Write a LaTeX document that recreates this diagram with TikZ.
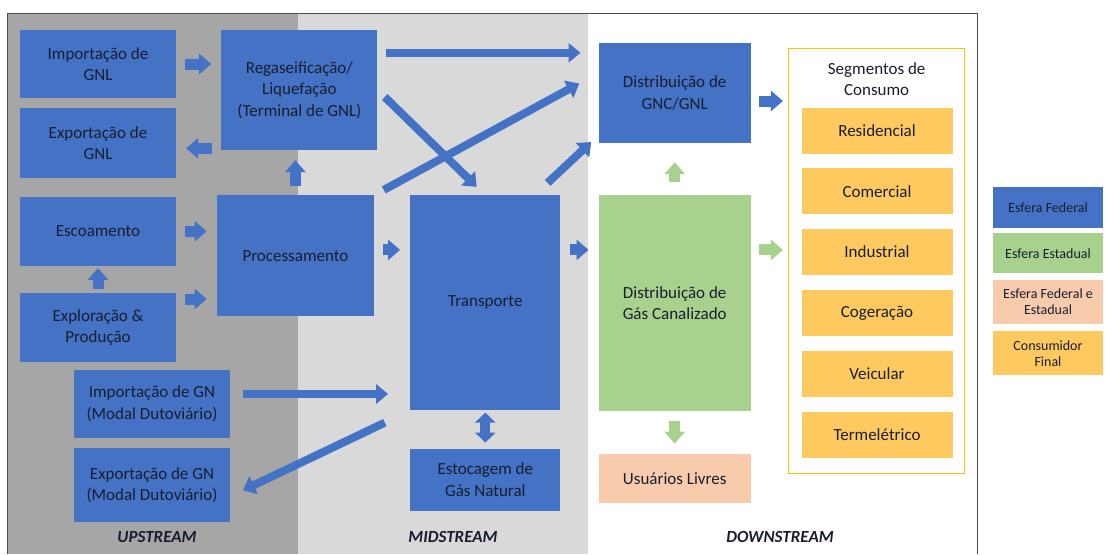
\documentclass[tikz,border=0pt]{standalone}
\usepackage{fontspec}
\setmainfont{Carlito}
\usetikzlibrary{positioning,arrows.meta}
\definecolor{fedblue}{HTML}{4472C4}
\definecolor{estgreen}{HTML}{A9D18E}
\definecolor{mixpeach}{HTML}{F8CBAD}
\definecolor{consgold}{RGB}{254,202,96}
\definecolor{upgrey}{HTML}{A6A6A6}
\definecolor{midgrey}{HTML}{D9D9D9}
\definecolor{txtdark}{RGB}{24,30,48}
\definecolor{segframe}{HTML}{FFC000}

\begin{document}
\begin{tikzpicture}
[x=1pt,y=-1pt,
box/.style={fill=fedblue, text=txtdark, align=center, inner sep=1pt, minimum width=156pt, minimum height=68pt, font=\fontsize{17}{21.5}\selectfont},
stbox/.style={box, fill=estgreen},
livbox/.style={box, fill=mixpeach},
segbox/.style={box, fill=consgold, minimum width=151pt, minimum height=46pt},
legbox/.style={fill=#1, text=txtdark, align=center, inner sep=1pt, minimum width=110pt, minimum height=42pt, font=\fontsize{14}{16}\selectfont},
blockarrow/.style={draw=fedblue, line width=11pt, -{Triangle[length=12pt,width=20pt]}, shorten <=9pt, shorten >=10pt},
flow/.style={draw=fedblue, line width=8pt, -{Triangle[length=12pt,width=19pt]}},
band/.style={font=\fontsize{17}{20}\selectfont\bfseries\itshape, text=txtdark}]

% page and the three bands
\useasboundingbox (0,0) rectangle (1107,554);
\fill[upgrey] (7,13) rectangle (298,554);
\fill[midgrey] (298,13) rectangle (588,554);
\draw[black!70, line width=1pt] (7,554) |- (977,13) -- (977,554);

% upstream
\node[box] (imgnl) at (98,64) {Importação de\\GNL};
\node[box, minimum height=70pt, below=10pt of imgnl] (expgnl) {Exportação de\\GNL};
\node[box, minimum height=69pt, below=18pt of expgnl] (escoa) {Escoamento};
\node[box, minimum height=69pt, below=27pt of escoa] (explo) {Exploração \&\\Produção};
\node[box] (imgn) at (152,404) {Importação de GN\\(Modal Dutoviário)};
\node[box, minimum height=74pt, below=10pt of imgn] (exgn) {Exportação de GN\\(Modal Dutoviário)};
\node[box, minimum height=120pt, right=45pt of imgnl.north east, anchor=north west] (regas) {Regaseificação/\\Liquefação\\(Terminal de GNL)};
\node[box, minimum width=157pt, minimum height=121pt, below=45pt of regas, xshift=-4pt] (proc) {Processamento};

% midstream
\node[box, minimum width=150pt, minimum height=215pt, right=36pt of proc.north east, anchor=north west] (trans) {Transporte};
\node[box, minimum width=150pt, minimum height=62pt, below=38pt of trans] (estoc) {Estocagem de\\Gás Natural};

% downstream
\node[stbox, minimum width=152pt, minimum height=216pt, right=38pt of trans.north east, anchor=north west] (gcan) {Distribuição de\\Gás Canalizado};
\node[box, minimum width=152pt, minimum height=100pt, above=52pt of gcan] (gnc) {Distribuição de\\GNC/GNL};
\node[livbox, minimum width=152pt, minimum height=49pt, below=42pt of gcan] (livres) {Usuários Livres};

\node[draw=segframe, line width=1.5pt, minimum width=176pt, minimum height=425pt, right=37pt of gnc.north east, anchor=north west, yshift=-5pt] (seg) {};
\node[font=\fontsize{17}{21.5}\selectfont, text=txtdark, align=center, below=11pt of seg.north] (segtitle) {Segmentos de\\Consumo};
\foreach \nm/\txt [count=\i from 0] in {res/Residencial, com/Comercial, ind/Industrial, cog/Cogeração, vei/Veicular, ter/Termelétrico}
  \node[segbox] (\nm) at (877,130.5+60.8*\i) {\txt};

% legend
\node[legbox=fedblue, minimum height=41pt] (lfed) at (1048,207.5) {Esfera Federal};
\node[legbox=estgreen, minimum height=40pt, below=5pt of lfed] (lest) {Esfera Estadual};
\node[legbox=mixpeach, minimum height=44pt, below=6pt of lest] (lmix) {Esfera Federal e\\Estadual};
\node[legbox=consgold, minimum height=44pt, below=7pt of lmix] (lcons) {Consumidor\\Final};

\node[band] (up) at (157,537) {UPSTREAM};
\node[band] (mid) at (453,537) {MIDSTREAM};
\node[band] (down) at (780,537) {DOWNSTREAM};

% helper points
\coordinate (row) at ([yshift=6pt]proc.center);
\coordinate (explo-out) at ([yshift=-6pt]explo.north east);
\coordinate (expgnl-in) at ([yshift=-5pt]expgnl.east);
\coordinate (gnc-out) at ([yshift=-8pt]gnc.east);
\coordinate (top-row) at ([yshift=-23pt]regas.north east);
\coordinate (gnc-in) at ([yshift=20pt]gnc.west);
\coordinate (imgn-out) at ([yshift=10pt]imgn.east);

% short arrows
\draw[blockarrow] (imgnl) -- (regas.west |- imgnl);
\draw[blockarrow] (regas.west |- expgnl-in) -- (expgnl-in);
\draw[blockarrow] (proc) -- (proc.north |- regas.south);
\draw[blockarrow] (escoa) -- (proc.west |- escoa);
\draw[blockarrow, shorten <=4pt, shorten >=2pt] (explo) -- (escoa);
\draw[blockarrow] (explo-out) -- (proc.west |- explo-out);
\draw[blockarrow] (proc.east |- row) -- (trans.west |- row);
\draw[blockarrow] (trans.east |- row) -- (gcan.west |- row);
\draw[blockarrow, shorten <=8pt, shorten >=5pt] (gnc-out) -- (seg.west |- gnc-out);
\draw[blockarrow, draw=estgreen, shorten <=8pt, shorten >=5pt] (gcan.east |- row) -- (seg.west |- row);
\draw[blockarrow, draw=estgreen, shorten <=13pt, shorten >=19pt] (gcan) -- (gnc);
\draw[blockarrow, draw=estgreen] (gcan) -- (livres);
\draw[draw=fedblue, line width=10pt, {Triangle[length=10pt,width=20pt]}-{Triangle[length=10pt,width=20pt]}, shorten <=2pt, shorten >=6pt] (trans) -- (estoc);

% long arrows
\draw[flow, shorten <=8pt, shorten >=18pt] (top-row) -- (gnc.west |- top-row);
\draw[flow, shorten <=10pt, shorten >=12pt] (regas.east) -- (trans.north);
\draw[flow, shorten <=11pt, shorten >=22pt] (proc.north east) -- (gnc-in);
\draw[flow, shorten <=18pt, shorten >=10pt] ([xshift=-26pt]trans.north east) -- ([yshift=8pt]gnc.south west);
\draw[flow, shorten <=13pt, shorten >=22pt] (imgn-out) -- (trans.west |- imgn-out);
\draw[flow, shorten <=28pt, shorten >=14pt] (trans.south west) -- ([yshift=-11pt]exgn.east);
\end{tikzpicture}
\end{document}
